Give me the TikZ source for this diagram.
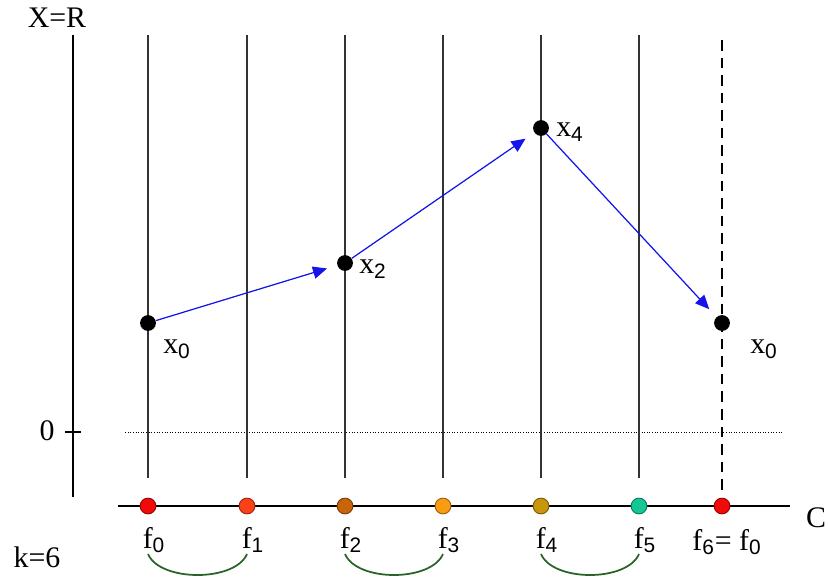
\documentclass[tikz,border=0pt]{standalone}
\usepackage{fontspec}
\setmainfont{Liberation Serif}
\setsansfont{Liberation Sans}
\usepackage{tikz}
\usetikzlibrary{arrows.meta,positioning,calc}
\definecolor{arrowblue}{RGB}{20, 20, 235}
\definecolor{arcgreen}{RGB}{40, 100, 40}
\definecolor{cred}{RGB}{240, 10, 10}
\definecolor{credorange}{RGB}{250, 65, 25}
\definecolor{cbrown}{RGB}{200, 100, 10}
\definecolor{corange}{RGB}{250, 155, 20}
\definecolor{cgold}{RGB}{200, 150, 10}
\definecolor{cteal}{RGB}{20, 200, 150}
\newcommand{\lab}[2]{#1\textsubscript{\sffamily #2}}

\begin{document}
\begin{tikzpicture}[x=0.02cm, y=-0.02cm,
  grid/.style={draw=black!80, line width=0.6pt},
  state/.style={circle, fill=black, inner sep=0pt, minimum size=9pt},
  colour/.style={circle, fill=#1, draw=#1!60!black, line width=0.5pt, inner sep=0pt, minimum width=9pt},
  jump/.style={-{Triangle[length=8pt, width=7pt]}, draw=arrowblue, fill=arrowblue, line width=0.7pt, shorten >=6pt},
  pair/.style={draw=arcgreen, line width=1pt},
  lbl/.style={font=\fontsize{17}{19}\selectfont, inner sep=0pt}
]
\useasboundingbox (0,0) rectangle (828,578);

% axes
\coordinate (ytop) at (73,35);
\coordinate (ybot) at (73,497);
\draw[line width=1.6pt] (ytop) -- (ybot);
\node[lbl] (xr) at (57,18) {X=R};
\coordinate (tickl) at (65,432);
\coordinate (tickr) at (81,432);
\draw[line width=0.8pt] (tickl) -- (tickr);
\node[lbl] (zero) at (47,431) {0};
\coordinate (zl) at (125,432);
\coordinate (zr) at (782,432);
\draw[densely dotted, line width=0.5pt] (zl) -- (zr);

\coordinate (cl) at (118,506);
\coordinate (cr) at (790,506);
\draw[line width=1.2pt] (cl) -- (cr);
\node[lbl] (cname) at (816,518) {C};
\node[lbl] (kk) at (37,557) {k=6};

% fibres
\foreach \i/\x in {0/148,1/247,2/345,3/443,4/541,5/639} {
  \coordinate (t\i) at (\x,35);
  \coordinate (b\i) at (\x,478);
  \draw[grid] (t\i) -- (b\i);
}
\coordinate (t6) at (722,40);
\coordinate (b6) at (722,490);
\draw[dashed, line width=1.3pt, dash pattern=on 6pt off 4pt] (t6) -- (b6);

% colours on C
\node[colour=cred] (f0) at (148,506) {};
\node[colour=credorange] (f1) at (247,506) {};
\node[colour=cbrown] (f2) at (345,506) {};
\node[colour=corange] (f3) at (443,506) {};
\node[colour=cgold] (f4) at (541,506) {};
\node[colour=cteal] (f5) at (639,506) {};
\node[colour=cred] (f6) at (722,506) {};

\node[lbl] (lf0) at (154,540) {\lab{f}{0}};
\node[lbl] (lf1) at (253,540) {\lab{f}{1}};
\node[lbl] (lf2) at (351,540) {\lab{f}{2}};
\node[lbl] (lf3) at (449,540) {\lab{f}{3}};
\node[lbl] (lf4) at (547,540) {\lab{f}{4}};
\node[lbl] (lf5) at (645,540) {\lab{f}{5}};
\node[lbl] (lf6) at (727,542) {\lab{f}{6}= \lab{f}{0}};

% pairs
\coordinate (p0) at (148,554);
\coordinate (q0) at (247,554);
\coordinate (p2) at (345,554);
\coordinate (q2) at (443,554);
\coordinate (p4) at (541,554);
\coordinate (q4) at (639,554);
\draw[pair] (p0) .. controls (160,582) and (235,582) .. (q0);
\draw[pair] (p2) .. controls (357,582) and (431,582) .. (q2);
\draw[pair] (p4) .. controls (553,582) and (627,582) .. (q4);

% points of the orbit
\node[state] (x0) at (148,323) {};
\node[state] (x2) at (345,263) {};
\node[state] (x4) at (541,128) {};
\node[state] (x6) at (722,323) {};
\node[lbl] (lx0) at (177,349) {\lab{x}{0}};
\node[lbl] (lx2) at (373,269) {\lab{x}{2}};
\node[lbl] (lx4) at (570,132) {\lab{x}{4}};
\node[lbl] (lx6) at (764,349) {\lab{x}{0}};

\draw[jump] (x0) -- (x2);
\draw[jump] (x2) -- (x4);
\draw[jump] (x4) -- (x6);

\end{tikzpicture}
\end{document}
